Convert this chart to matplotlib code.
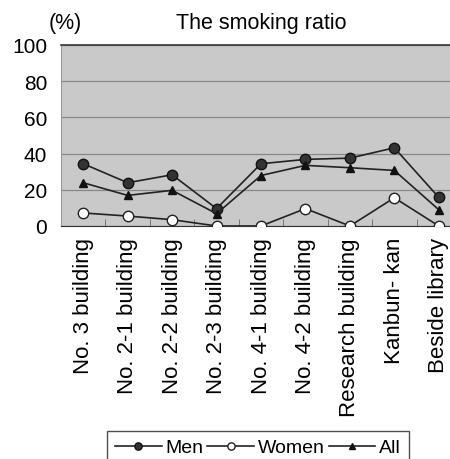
import numpy as np
import matplotlib.pyplot as plt

buildings = ['No. 3 building', 'No. 2-1 building', 'No. 2-2 building', 'No. 2-3 building',
             'No. 4-1 building', 'No. 4-2 building', 'Research building', 'Kanbun- kan',
             'Beside library']
men = [34.4, 23.9, 28.3, 9.6, 34.4, 36.8, 37.5, 43.2, 15.8]
women = [7.2, 5.5, 3.5, 0.0, 0.0, 9.6, 0.0, 15.6, 0.0]
all_ = [23.9, 16.9, 19.7, 6.8, 27.9, 33.5, 32.2, 30.7, 9.0]

plt.rcParams['font.family'] = ['Liberation Sans', 'DejaVu Sans']

fig = plt.figure(figsize=(4.5, 4.6), dpi=100)
# plot area runs past the right edge, as in the cropped reference
ax = fig.add_axes([61 / 450, 1 - 227 / 460, 400 / 450, 181 / 460])

x = np.arange(len(buildings))
ax.set_facecolor('#c9c9c9')
ax.plot(x, men, '-o', color='#222222', mfc='#333333', mec='#111111', ms=7.5, lw=1.2, label='Men', zorder=3)
ax.plot(x, women, '-o', color='#222222', mfc='white', mec='#222222', ms=7.5, lw=1.2, label='Women', zorder=3)
ax.plot(x, all_, '-^', color='#222222', mfc='#111111', mec='#111111', ms=6, lw=1.2, label='All', zorder=3)

ax.set_xlim(-0.5, len(buildings) - 0.5)
ax.set_ylim(0, 100)
ax.set_yticks([0, 20, 40, 60, 80, 100])
ax.tick_params(axis='y', length=0, labelsize=15, pad=10)
ax.set_xticks(x)
ax.set_xticklabels(buildings, rotation=90, fontsize=16)
ax.tick_params(axis='x', length=0, pad=8)
ax.set_xticks(np.arange(0.5, len(buildings) - 1), minor=True)
ax.tick_params(axis='x', which='minor', direction='in', length=5, color='#666666')
ax.grid(axis='y', color='#888888', lw=0.9)
ax.set_axisbelow(True)

ax.spines['right'].set_visible(False)
ax.spines['top'].set_color('#333333')
ax.spines['top'].set_linewidth(1.2)
ax.spines['left'].set_color('#999999')
ax.spines['bottom'].set_color('#333333')

fig.text(261 / 450, 1 - 23 / 460, 'The smoking ratio', ha='center', va='center', fontsize=15.5)
fig.text(65 / 450, 1 - 23 / 460, '(%)', ha='center', va='center', fontsize=15.5)

leg = fig.legend(loc='upper center', bbox_to_anchor=(258 / 450, 1 - 432 / 460), ncol=3, fontsize=14,
                 frameon=True, fancybox=False, edgecolor='#222222', handlelength=2.4,
                 handletextpad=0.2, columnspacing=0.2, borderpad=0.4, borderaxespad=0,
                 markerscale=0.7)
leg.get_frame().set_linewidth(1.0)

fig.savefig('out.png', dpi=100, facecolor='white')
